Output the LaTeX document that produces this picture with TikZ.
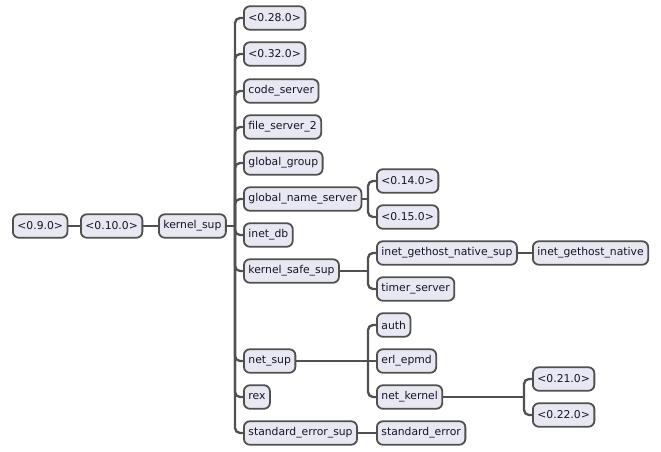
\documentclass[tikz,border=0pt]{standalone}
\usepackage{fontspec}
\setmainfont{DejaVu Sans}
\usepackage{tikz}

\definecolor{boxfill}{HTML}{E8E8F2}
\definecolor{boxline}{HTML}{505050}
\definecolor{boxtext}{HTML}{141428}

\tikzset{
  proc/.style={draw=boxline, fill=boxfill, text=boxtext, line width=1.8pt,
    rounded corners=6pt, minimum height=23.5pt, inner xsep=4.5pt, inner ysep=2pt,
    anchor=west, font=\fontsize{10.8}{12}\selectfont},
  conn/.style={draw=boxline, line width=2.3pt, rounded corners=5pt}
}

\begin{document}
\begin{tikzpicture}[x=1pt,y=-1pt]
  \useasboundingbox (0,0) rectangle (661,452);

  %root chain
  \node[proc] (v090) at (12,226) {<0.9.0>};
  \node[proc] (v0100) at (80,226) {<0.10.0>};
  \node[proc] (ksup) at (158,226) {kernel\_sup};

  %children of kernel_sup
  \node[proc] (v0280) at (243,18) {<0.28.0>};
  \node[proc] (v0320) at (243,54) {<0.32.0>};
  \node[proc] (codesrv) at (243,91) {code\_server};
  \node[proc] (filesrv) at (243,127) {file\_server\_2};
  \node[proc] (glgroup) at (243,163) {global\_group};
  \node[proc] (gns) at (243,199) {global\_name\_server};
  \node[proc] (inetdb) at (243,235) {inet\_db};
  \node[proc] (kss) at (243,271) {kernel\_safe\_sup};
  \node[proc] (netsup) at (243,361) {net\_sup};
  \node[proc] (rex) at (243,397) {rex};
  \node[proc] (sesup) at (243,433) {standard\_error\_sup};

  %third column
  \node[proc] (v0140) at (376,181) {<0.14.0>};
  \node[proc] (v0150) at (376,217) {<0.15.0>};
  \node[proc] (ighns) at (376,253) {inet\_gethost\_native\_sup};
  \node[proc] (timersrv) at (376,289) {timer\_server};
  \node[proc] (auth) at (376,325) {auth};
  \node[proc] (epmd) at (376,361) {erl\_epmd};
  \node[proc] (netkernel) at (376,397) {net\_kernel};
  \node[proc] (stderr) at (376,433) {standard\_error};

  %fourth column
  \node[proc] (ighn) at (532,253) {inet\_gethost\_native};
  \node[proc] (v0210) at (532,379) {<0.21.0>};
  \node[proc] (v0220) at (532,415) {<0.22.0>};

  %junctions
  \coordinate (ksupj) at (235,226);
  \coordinate (gnsj) at (368,199);
  \coordinate (kssj) at (368,271);
  \coordinate (netsupj) at (368,361);
  \coordinate (netkernelj) at (524,397);

  %root links
  \draw[conn] (v090.east) -- (v0100.west);
  \draw[conn] (v0100.east) -- (ksup.west);

  %kernel_sup links
  \draw[conn] (ksup.east) -- (ksupj);
  \foreach \c in {v0280,v0320,codesrv,filesrv,glgroup,gns,inetdb,kss,netsup,rex,sesup}
    \draw[conn] (ksupj) |- (\c.west);

  %global_name_server links
  \draw[conn] (gns.east) -- (gnsj);
  \draw[conn] (gnsj) |- (v0140.west);
  \draw[conn] (gnsj) |- (v0150.west);

  %kernel_safe_sup links
  \draw[conn] (kss.east) -- (kssj);
  \draw[conn] (kssj) |- (ighns.west);
  \draw[conn] (kssj) |- (timersrv.west);
  \draw[conn] (ighns.east) -- (ighn.west);

  %net_sup links
  \draw[conn] (netsup.east) -- (netsupj);
  \draw[conn] (netsupj) |- (auth.west);
  \draw[conn] (netsupj) -- (epmd.west);
  \draw[conn] (netsupj) |- (netkernel.west);

  %net_kernel links
  \draw[conn] (netkernel.east) -- (netkernelj);
  \draw[conn] (netkernelj) |- (v0210.west);
  \draw[conn] (netkernelj) |- (v0220.west);

  %standard_error_sup link
  \draw[conn] (sesup.east) -- (stderr.west);
\end{tikzpicture}
\end{document}
